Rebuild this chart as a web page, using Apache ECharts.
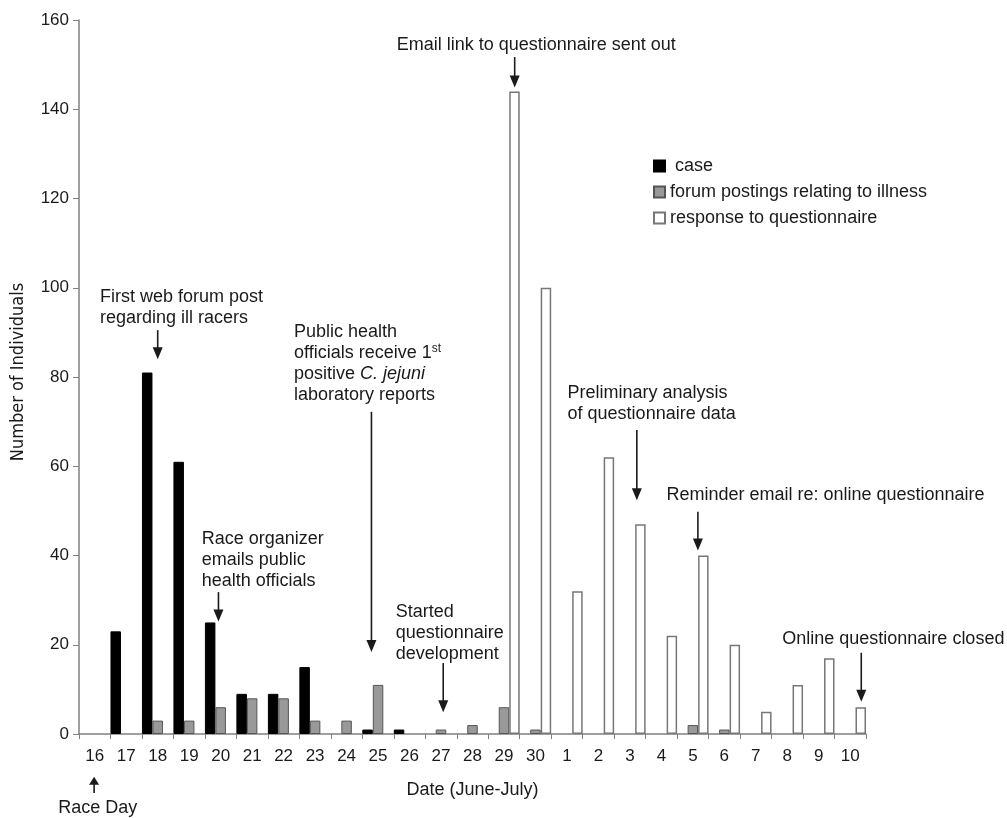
<!DOCTYPE html>
<html><head><meta charset="utf-8">
<script src="https://cdn.jsdelivr.net/npm/echarts@6/dist/echarts.min.js"></script>
<style>html,body{margin:0;padding:0;background:#fff}#c{width:1007px;height:818px}</style>
</head><body><div id="c"></div>
<script>
// ---------- data ----------
const categories = ['16','17','18','19','20','21','22','23','24','25','26','27','28','29','30','1','2','3','4','5','6','7','8','9','10'];
const caseCounts =            [null,23,81,61,25,9,9,15,null,1,1,null,null,null,null,null,null,null,null,null,null,null,null,null,null];
const forumPostings =         [null,null,3,3,6,8,8,3,3,11,null,1,2,6,1,null,null,null,null,2,1,null,null,null,null];
const questionnaireResponses = [null,null,null,null,null,null,null,null,null,null,null,null,null,144,100,32,62,47,22,40,20,5,11,17,6];
const seriesNames = ['case','forum postings relating to illness','response to questionnaire'];
const annotationTexts = [
  'First web forum post\nregarding ill racers',
  'Public health\nofficials receive 1{sup|st}\npositive {i|C. jejuni}\nlaboratory reports',
  'Race organizer\nemails public\nhealth officials',
  'Started\nquestionnaire\ndevelopment',
  'Email link to questionnaire sent out',
  'Preliminary analysis\nof questionnaire data',
  'Reminder email re: online questionnaire',
  'Online questionnaire closed',
  'Race Day'
];

// ---------- annotation layout (in axis units: x = category band units, y = value) ----------
const annotationLayout = [
  {tx:0.667, ty:98.0,  ax:2.5,   ay1:90.5,  ay2:84.0},
  {tx:6.83,  ty:90.1,  ax:9.29,  ay1:72.2,  ay2:18.4},
  {tx:3.9,   ty:43.7,  ax:4.43,  ay1:31.8,  ay2:25.2},
  {tx:10.06, ty:27.4,  ax:11.57, ay1:15.9,  ay2:4.9},
  {tx:10.09, ty:154.4, ax:13.84, ay1:151.7, ay2:144.9},
  {tx:15.52, ty:76.3,  ax:17.72, ay1:68.1,  ay2:52.4},
  {tx:18.66, ty:53.6,  ax:19.66, ay1:49.8,  ay2:41.1},
  {tx:22.34, ty:21.2,  ax:24.85, ay1:18.2,  ay2:7.2},
  {tx:-0.66, ty:-16.6, ax:0.48,  ay1:-13.2, ay2:-9.6, head:8}
];

const FONT = '"Liberation Sans", Arial, Helvetica, sans-serif';
const INK = '#1a1a1a';
const LINE_H = 21;

function renderAnnotation(params, api) {
  const i = api.value(0);
  const L = annotationLayout[i];
  const t = api.coord([L.tx, L.ty]);
  const a1 = api.coord([L.ax, L.ay1]);
  const a2 = api.coord([L.ax, L.ay2]);
  const dir = a2[1] > a1[1] ? 1 : -1;
  const head = L.head || 12, hw = 5;
  return {
    type: 'group',
    children: [
      {type:'text', style:{
        text: annotationTexts[i], x: t[0], y: t[1] - LINE_H/2,
        fill: INK, fontSize: 18, fontFamily: FONT, lineHeight: LINE_H,
        align: 'left', verticalAlign: 'top',
        rich: {
          sup: {fontSize: 12, fontFamily: FONT, fill: INK, lineHeight: 12, verticalAlign: 'top'},
          i: {fontSize: 18, fontFamily: FONT, fill: INK, fontStyle: 'italic', lineHeight: LINE_H}
        }
      }},
      {type:'line', shape:{x1:a1[0], y1:a1[1], x2:a2[0], y2:a2[1] - dir*head + dir}, style:{stroke: INK, lineWidth: 1.6}},
      {type:'polygon', shape:{points:[[a2[0], a2[1]], [a2[0]-hw, a2[1]-dir*head], [a2[0]+hw, a2[1]-dir*head]]}, style:{fill: INK}}
    ]
  };
}

const chart = echarts.init(document.getElementById('c'), null, {renderer: 'canvas'});
chart.setOption({
  backgroundColor: '#fff',
  animation: false,
  textStyle: {fontFamily: FONT},
  grid: {left: 79, right: 141, top: 20, bottom: 84, containLabel: false},
  legend: {
    data: seriesNames, orient: 'vertical', left: 648, top: 152,
    icon: 'rect', itemWidth: 11, itemHeight: 11, itemGap: 8,
    formatter: n => (n === 'case' ? ' ' + n : n),
    textStyle: {fontSize: 18, color: INK, fontFamily: FONT},
    selectedMode: false
  },
  xAxis: [{
    type: 'category', data: categories, boundaryGap: true,
    name: 'Date (June-July)', nameLocation: 'middle', nameGap: 47,
    nameTextStyle: {fontSize: 18, color: INK, fontFamily: FONT},
    axisLine: {lineStyle: {color: '#808080', width: 1.5}},
    axisTick: {show: true, interval: 0, length: 5, lineStyle: {color: '#808080'}},
    axisLabel: {interval: 0, fontSize: 17, color: INK, margin: 14, fontFamily: FONT},
    splitLine: {show: false}
  }, {
    type: 'value', min: 0, max: 25, show: false
  }],
  yAxis: [{
    type: 'value', min: 0, max: 160, interval: 20,
    name: 'Number of Individuals', nameLocation: 'middle', nameGap: 52,
    nameTextStyle: {fontSize: 18, color: INK, fontFamily: '"DejaVu Sans Condensed", ' + FONT, padding: [0, 0, 0, 10]},
    axisLine: {show: true, lineStyle: {color: '#808080', width: 1.5}},
    axisTick: {show: true, length: 6, lineStyle: {color: '#808080'}},
    axisLabel: {fontSize: 17, color: INK, margin: 10, fontFamily: FONT},
    splitLine: {show: false}
  }],
  series: [
    {name: seriesNames[0], type: 'bar', data: caseCounts, barGap: '0%', barCategoryGap: '0%',
     itemStyle: {color: '#000', borderColor: '#000', borderWidth: 1}},
    {name: seriesNames[1], type: 'bar', data: forumPostings, barGap: '0%', barCategoryGap: '0%',
     itemStyle: {color: '#999', borderColor: '#555', borderWidth: 1}},
    {name: seriesNames[2], type: 'bar', data: questionnaireResponses, barGap: '0%', barCategoryGap: '0%',
     itemStyle: {color: '#fff', borderColor: '#777', borderWidth: 1.5}},
    {name: 'annotations', type: 'custom', xAxisIndex: 1, yAxisIndex: 0, silent: true, clip: false,
     data: annotationTexts.map((_, i) => [i, 0]), renderItem: renderAnnotation, z: 10}
  ]
});
</script></body></html>
